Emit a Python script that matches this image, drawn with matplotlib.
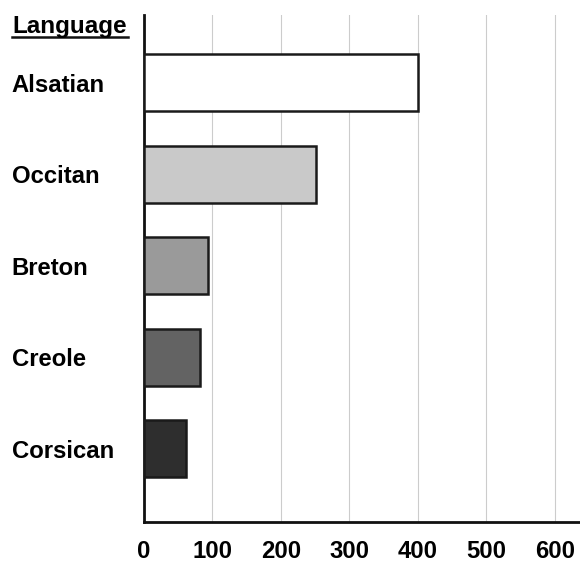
import matplotlib
matplotlib.use('Agg')
import matplotlib.pyplot as plt
import numpy as np

# speakers per language (thousands)
languages = ['Alsatian', 'Occitan', 'Breton', 'Creole', 'Corsican']
speakers = [400, 251, 93, 82, 61]
shades = ['#ffffff', '#c9c9c9', '#9a9a9a', '#636363', '#2e2e2e']
xticks = [0, 100, 200, 300, 400, 500, 600]

plt.rcParams['font.family'] = ['Liberation Sans', 'DejaVu Sans']
FS = 17.2

fig = plt.figure(figsize=(5.8, 5.63), dpi=100)
ax = fig.add_axes([0.248, 0.073, 0.752, 0.9])

y = np.arange(len(languages))
ax.barh(y, speakers, height=0.625, color=shades, edgecolor='#1a1a1a',
        linewidth=1.8, zorder=3)

ax.set_ylim(len(languages) - 0.2, -0.74)
ax.set_xlim(0, 637)
ax.set_xticks(xticks)
ax.set_xticklabels([str(t) for t in xticks], fontsize=FS, fontweight='bold')
ax.set_yticks(y)
ax.set_yticklabels(languages, fontsize=FS, fontweight='bold', ha='left')
# labels start ~132 px left of the axis line
ax.tick_params(axis='y', length=0, pad=132 * 72 / 100)
ax.tick_params(axis='x', length=0, pad=13)

for v in xticks[1:]:
    ax.axvline(v, color='#cccccc', linewidth=0.8, zorder=1)

for s in ['top', 'right']:
    ax.spines[s].set_visible(False)
for s in ['left', 'bottom']:
    ax.spines[s].set_linewidth(2)
    ax.spines[s].set_color('#111111')

fig.text(12 / 580, 1 - 26 / 563, 'Language', fontsize=FS + 0.3, fontweight='bold',
         va='center', ha='left')
fig.add_artist(plt.Line2D([12 / 580, 128 / 580], [1 - 37 / 563, 1 - 37 / 563],
                          color='#111111', linewidth=1.8))

fig.savefig('out.png', dpi=100)
